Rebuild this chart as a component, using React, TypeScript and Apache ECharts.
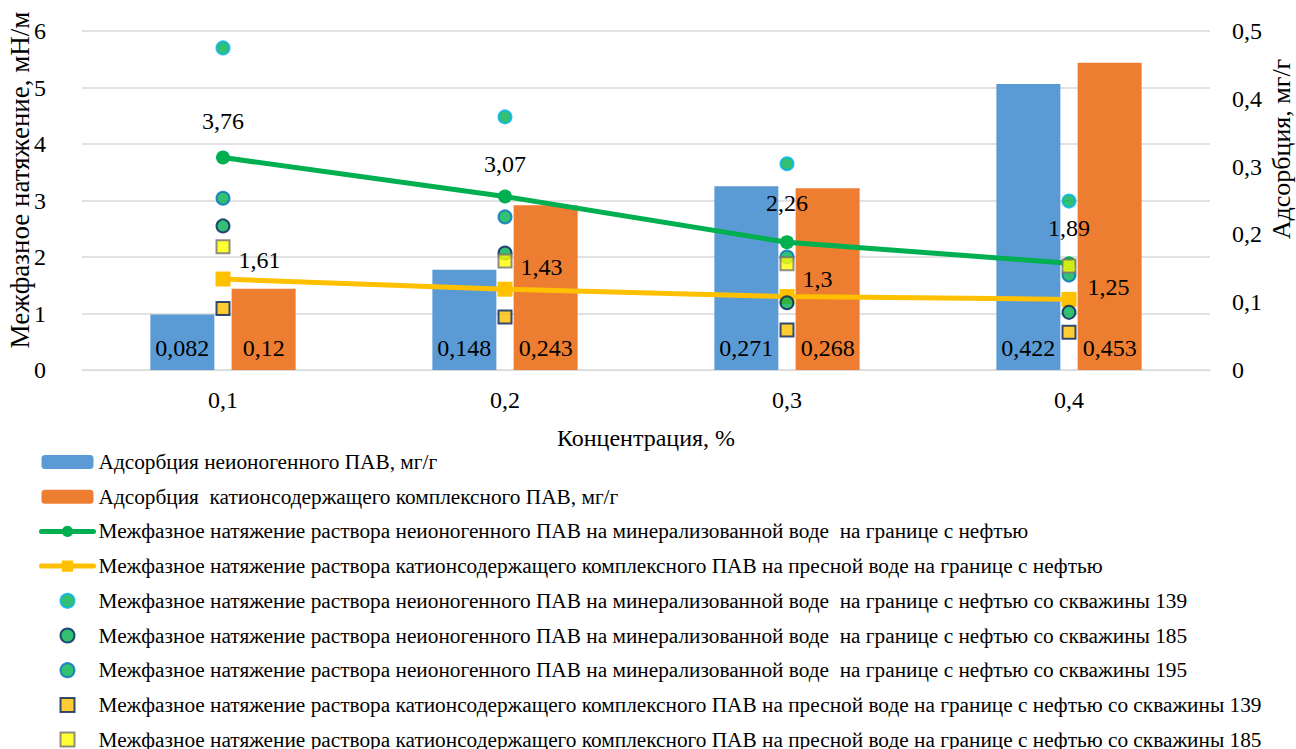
import React, { useEffect, useRef } from "react";
import * as echarts from "echarts";

const categories = ["0,1", "0,2", "0,3", "0,4"];
const adsNonionic = [0.082, 0.148, 0.271, 0.422];
const adsCationic = [0.12, 0.243, 0.268, 0.453];
const ift_nonionic = [3.76, 3.07, 2.26, 1.89];
const ift_cationic = [1.61, 1.43, 1.3, 1.25];
const ift_non_139 = [5.7, 4.48, 3.65, 2.99];
const ift_non_185 = [2.55, 2.07, 1.19, 1.02];
const ift_non_195 = [3.04, 2.71, 2.0, 1.68];
const ift_cat_139 = [1.09, 0.94, 0.71, 0.67];
const ift_cat_185 = [2.18, 1.93, 1.88, 1.84];
const leftTicks = [0, 1, 2, 3, 4, 5, 6];
const rightTicks = [0, 0.1, 0.2, 0.3, 0.4, 0.5];

// label placement tweaks (style only)
const greenLabelDistance = [18, 14, 20, 16];
const yellowLabelOffset = [[0, -19], [0, -22], [0, -18], [3, -12]];

const names = [
  "Адсорбция неионогенного ПАВ, мг/г",
  "Адсорбция  катионсодержащего комплексного ПАВ, мг/г",
  "Межфазное натяжение раствора неионогенного ПАВ на минерализованной воде  на границе с нефтью",
  "Межфазное натяжение раствора катионсодержащего комплексного ПАВ на пресной воде на границе с нефтью",
  "Межфазное натяжение раствора неионогенного ПАВ на минерализованной воде  на границе с нефтью со скважины 139",
  "Межфазное натяжение раствора неионогенного ПАВ на минерализованной воде  на границе с нефтью со скважины 185",
  "Межфазное натяжение раствора неионогенного ПАВ на минерализованной воде  на границе с нефтью со скважины 195",
  "Межфазное натяжение раствора катионсодержащего комплексного ПАВ на пресной воде на границе с нефтью со скважины 139",
  "Межфазное натяжение раствора катионсодержащего комплексного ПАВ на пресной воде на границе с нефтью со скважины 185",
];

const FONT = "Liberation Serif";
const comma = (v: number) => String(v).replace(".", ",");
const SQUARE = "path://M0 0H10V10H0Z";

export default function App() {
  const ref = useRef<HTMLDivElement>(null);
  useEffect(() => {
    document.body.style.margin = "0";
    const chart = echarts.init(ref.current!, null, { renderer: "svg" });
    const barLabel = {
      show: true,
      position: "insideBottom",
      distance: 10,
      fontFamily: FONT,
      fontSize: 24,
      color: "#000",
      formatter: (p: any) => comma(p.value),
    };
    const scatter = (name: string, data: number[], symbol: string, fill: string, border: string, size: number, z: number) => ({
      name,
      type: "scatter",
      data,
      symbol,
      symbolSize: size,
      z,
      itemStyle: { color: fill, borderColor: border, borderWidth: 2 },
    });
    chart.setOption({
      animation: false,
      textStyle: { fontFamily: FONT },
      grid: { left: 82, right: 86, top: 31, bottom: 379, containLabel: false },
      xAxis: {
        type: "category",
        data: categories,
        axisLine: { lineStyle: { color: "#d9d9d9", width: 1 } },
        axisTick: { show: false },
        axisLabel: { fontFamily: FONT, fontSize: 24, color: "#000", margin: 18 },
        name: "Концентрация, %",
        nameLocation: "middle",
        nameGap: 56,
        nameTextStyle: { fontFamily: FONT, fontSize: 24, color: "#000" },
      },
      yAxis: [
        {
          type: "value",
          min: leftTicks[0],
          max: leftTicks[leftTicks.length - 1],
          interval: 1,
          axisLine: { show: false },
          axisTick: { show: false },
          splitLine: { lineStyle: { color: "#d9d9d9", width: 1.5 } },
          axisLabel: { fontFamily: FONT, fontSize: 24, color: "#000", margin: 36 },
        },
        {
          type: "value",
          min: rightTicks[0],
          max: rightTicks[rightTicks.length - 1],
          interval: 0.1,
          axisLine: { show: false },
          axisTick: { show: false },
          splitLine: { show: false },
          axisLabel: { fontFamily: FONT, fontSize: 24, color: "#000", margin: 22, formatter: (v: number) => comma(Math.round(v * 10) / 10) },
        },
      ],
      legend: {
        orient: "vertical",
        left: 34,
        top: 446,
        height: 360,
        itemWidth: 52,
        itemHeight: 14,
        itemGap: 12.7,
        textStyle: { fontFamily: FONT, fontSize: 21.3, color: "#000", lineHeight: 22 },
        data: [
          { name: names[0] },
          { name: names[1] },
          { name: names[2], lineStyle: { width: 5, cap: "round" } },
          { name: names[3], lineStyle: { width: 5, cap: "round" } },
          { name: names[4] },
          { name: names[5] },
          { name: names[6] },
          { name: names[7], icon: SQUARE },
          { name: names[8], icon: SQUARE },
        ],
      },
      graphic: [
        {
          type: "text",
          x: 20,
          y: 180,
          rotation: Math.PI / 2,
          style: { text: "Межфазное натяжение, мН/м", font: `27px ${FONT}`, fill: "#000", textAlign: "center", textVerticalAlign: "middle" },
        },
        {
          type: "text",
          x: 1281,
          y: 149,
          rotation: Math.PI / 2,
          style: { text: "Адсорбция, мг/г", font: `26px ${FONT}`, fill: "#000", textAlign: "center", textVerticalAlign: "middle" },
        },
      ],
      series: [
        {
          name: names[0],
          type: "bar",
          yAxisIndex: 1,
          data: adsNonionic,
          barWidth: 64,
          barGap: "27%",
          itemStyle: { color: "#5B9BD5" },
          label: barLabel,
          z: 1,
        },
        {
          name: names[1],
          type: "bar",
          yAxisIndex: 1,
          data: adsCationic,
          barWidth: 64,
          barGap: "27%",
          itemStyle: { color: "#ED7D31" },
          label: barLabel,
          z: 1,
        },
        {
          name: names[2],
          type: "line",
          data: ift_nonionic.map((v, i) => ({ value: v, label: { distance: greenLabelDistance[i] } })),
          symbol: "circle",
          symbolSize: 14,
          lineStyle: { color: "#00B050", width: 5 },
          itemStyle: { color: "#00B050" },
          z: 3,
          label: {
            show: true,
            position: "top",
            fontFamily: FONT,
            fontSize: 24,
            color: "#000",
            formatter: (p: any) => comma(p.value),
          },
        },
        {
          name: names[3],
          type: "line",
          data: ift_cationic.map((v, i) => ({ value: v, label: { offset: yellowLabelOffset[i] } })),
          symbol: "rect",
          symbolSize: 15,
          lineStyle: { color: "#FFC000", width: 5 },
          itemStyle: { color: "#FFC000" },
          z: 3,
          label: {
            show: true,
            position: "right",
            distance: 8,
            fontFamily: FONT,
            fontSize: 24,
            color: "#000",
            formatter: (p: any) => comma(p.value),
          },
        },
        scatter(names[4], ift_non_139, "circle", "#00B050", "#00B0F0", 13, 4),
        scatter(names[5], ift_non_185, "circle", "#00B050", "#002060", 13, 4),
        scatter(names[6], ift_non_195, "circle", "#00B050", "#0070C0", 13, 4),
        scatter(names[7], ift_cat_139, "rect", "#FFC000", "#002060", 13, 5),
        scatter(names[8], ift_cat_185, "rect", "#FFFF00", "#767171", 13, 5),
      ],
    });
    return () => chart.dispose();
  }, []);
  return <div ref={ref} style={{ width: 1296, height: 749 }} />;
}
